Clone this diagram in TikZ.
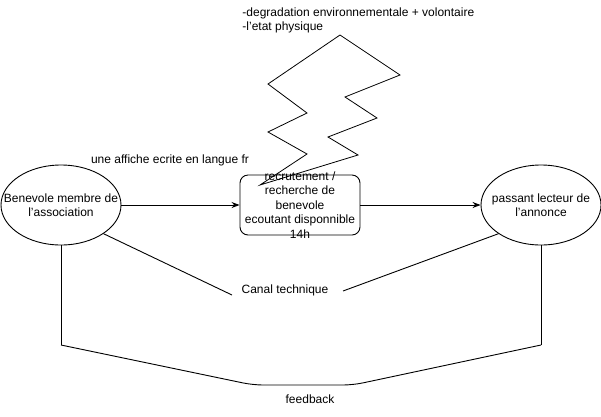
\documentclass[tikz,border=0pt]{standalone}
\usepackage{fontspec}
\setmainfont{Liberation Sans}
\usetikzlibrary{arrows.meta,shapes.geometric}
\begin{document}
\begin{tikzpicture}[x=1pt,y=-1pt,line width=0.9pt,
  every node/.style={font=\fontsize{12}{14.5}\selectfont,inner sep=0pt},
  actor/.style={draw,ellipse,minimum width=120pt,minimum height=80pt},
  process/.style={draw,rounded corners=8pt,minimum width=120pt,minimum height=60pt},
  flow/.style={-{Stealth[length=8pt,width=6pt]}},
  caption/.style={align=center}]
\useasboundingbox (0,0) rectangle (601,416);

% actors (shape and caption set apart so the text may touch the outline)
\node[actor] (L) at (61,205) {};
\node[caption] (Lt) at (L.center) {Benevole membre de\\l'association};
\node[actor] (R) at (541,205) {};
\node[caption] (Rt) at (R.center) {passant lecteur de\\l'annonce};

% central process box with its overflowing text
\node[process] (M) at (300,205) {};
\node[caption] (Mt) at (M.center) {recrutement /\\recherche de\\benevole\\ecoutant disponnible\\14h};

% noise bolt
\draw[line width=0.8pt,line join=miter] (340,35) -- (400,75) -- (345,97) -- (377,118) -- (328,137) -- (358,155)
  -- (260,185) -- (307,154) -- (268,132) -- (307,113) -- (268,84) -- cycle;
\node[align=left,anchor=west] (noise) at (242,20.5) {-degradation environnementale + volontaire\\-l'etat physique};

% message flow
\draw[flow] (L.east) -- (M.west);
\draw[flow] (M.east) -- (R.west);
\node (msg) at (170,160) {une affiche ecrite en langue fr};

% technical channel
\node (canal) at (285,290) {Canal technique};
\coordinate (ca) at (232,295);
\coordinate (cb) at (343,291);
\draw (L.-34) -- (ca);
\draw (cb) -- (R.-146);

% feedback loop
\coordinate (f1) at (61,345);
\coordinate (f2) at (253,385);
\coordinate (f3) at (353,385);
\coordinate (f4) at (541,345);
\draw (L.south) -- (f1);
\draw[rounded corners=10pt] (f1) -- (f2) -- (f3) -- (f4);
\draw (f4) -- (R.south);
\node (fb) at (310,399) {feedback};
\end{tikzpicture}
\end{document}
